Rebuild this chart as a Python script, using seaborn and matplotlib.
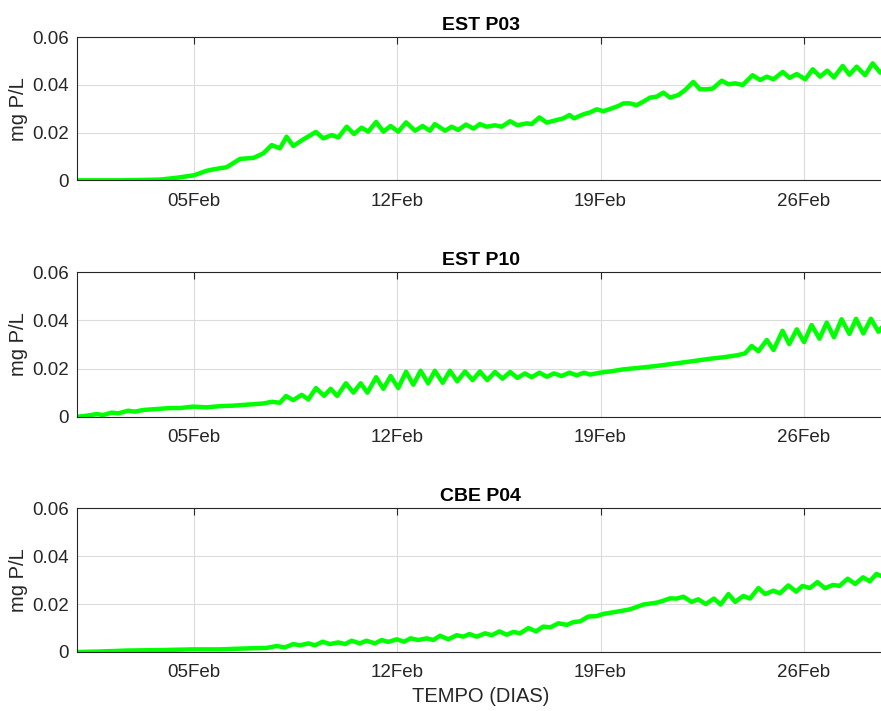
import numpy as np
import pandas as pd
import matplotlib
matplotlib.use("Agg")
import matplotlib.pyplot as plt
import matplotlib.dates as mdates
import seaborn as sns

# dias desde 01Feb (picos e cavados)
dias_p03 = [0, 1.5, 2.85, 3.07, 3.5, 4.01, 4.45, 4.68, 5.14, 5.6, 6.06, 6.4, 6.69, 6.97, 7.2, 7.43,
            7.78, 8.21, 8.46, 8.75, 8.98, 9.27, 9.52, 9.78, 10.01, 10.28, 10.53, 10.78, 11.04, 11.31,
            11.62, 11.88, 12.13, 12.3, 12.65, 12.88, 13.1, 13.37, 13.63, 13.85, 14.08, 14.37, 14.6,
            14.89, 15.14, 15.46, 15.63, 15.9, 16.15, 16.49, 16.72, 16.93, 17.09, 17.43, 17.64, 17.87,
            18.1, 18.39, 18.61, 18.79, 19.01, 19.24, 19.47, 19.7, 19.93, 20.16, 20.39, 20.68, 20.91,
            21.19, 21.42, 21.65, 21.86, 22.17, 22.4, 22.63, 22.89, 23.23, 23.49, 23.72, 23.95, 24.27,
            24.5, 24.75, 25.04, 25.3, 25.55, 25.8, 26.03, 26.33, 26.56, 26.81, 27.1, 27.36, 27.62, 27.85]
p03 = [0, 0, 0.0003, 0.0006, 0.0012, 0.0021, 0.004, 0.0046, 0.0055, 0.009, 0.0094, 0.0113, 0.0148,
       0.0134, 0.0183, 0.0144, 0.0172, 0.0203, 0.0176, 0.019, 0.018, 0.0225, 0.0194, 0.0221, 0.0204,
       0.0245, 0.0204, 0.0228, 0.0204, 0.0243, 0.0208, 0.0228, 0.0208, 0.0236, 0.0208, 0.0225, 0.0211,
       0.0234, 0.0217, 0.0236, 0.0225, 0.0231, 0.0225, 0.0248, 0.0231, 0.0239, 0.0236, 0.0264, 0.0242,
       0.0253, 0.026, 0.0274, 0.026, 0.0278, 0.0285, 0.0298, 0.029, 0.0302, 0.0312, 0.0323, 0.0323,
       0.0315, 0.033, 0.0347, 0.0351, 0.0368, 0.0347, 0.0358, 0.0379, 0.0413, 0.0382, 0.0382, 0.0385,
       0.0418, 0.0403, 0.0407, 0.04, 0.0441, 0.0421, 0.0435, 0.0424, 0.0455, 0.043, 0.0446, 0.0424,
       0.0466, 0.0435, 0.046, 0.0432, 0.048, 0.0443, 0.0477, 0.0441, 0.0491, 0.0452, 0.047]

dias_p10 = [0, 0.32, 0.67, 0.89, 1.18, 1.41, 1.75, 1.98, 2.27, 2.73, 3.19, 3.53, 3.99, 4.45, 4.91,
            5.37, 5.83, 6.4, 6.69, 6.97, 7.18, 7.43, 7.72, 7.95, 8.21, 8.49, 8.72, 8.94, 9.24, 9.5,
            9.75, 9.98, 10.28, 10.53, 10.78, 11.04, 11.31, 11.56, 11.81, 12.07, 12.3, 12.57, 12.82,
            13.07, 13.34, 13.6, 13.85, 14.1, 14.37, 14.63, 14.89, 15.14, 15.4, 15.63, 15.9, 16.15,
            16.4, 16.66, 16.93, 17.18, 17.43, 17.64, 17.98, 18.33, 18.79, 19.24, 19.93, 20.62, 21.31,
            21.77, 22.22, 22.68, 22.97, 23.2, 23.43, 23.72, 23.95, 24.26, 24.49, 24.75, 25.0, 25.26,
            25.53, 25.78, 26.03, 26.29, 26.56, 26.79, 27.04, 27.3, 27.56, 27.8]
p10 = [0, 0.0004, 0.0011, 0.0007, 0.0017, 0.0014, 0.0025, 0.0021, 0.0028, 0.0032, 0.0036, 0.0036,
       0.0042, 0.0039, 0.0044, 0.0046, 0.005, 0.0055, 0.0062, 0.0058, 0.0086, 0.0069, 0.0091, 0.0072,
       0.0119, 0.0087, 0.0116, 0.0086, 0.0139, 0.01, 0.0139, 0.01, 0.0164, 0.0116, 0.0169, 0.0119,
       0.0187, 0.0133, 0.0191, 0.0139, 0.0191, 0.0141, 0.0191, 0.0147, 0.0188, 0.0152, 0.0188, 0.0152,
       0.0186, 0.0158, 0.0186, 0.0161, 0.018, 0.0164, 0.0183, 0.0166, 0.018, 0.0169, 0.0183, 0.0172,
       0.0183, 0.0175, 0.0183, 0.0188, 0.0197, 0.0202, 0.0211, 0.0222, 0.0233, 0.0241, 0.0247, 0.0255,
       0.0263, 0.0294, 0.0272, 0.0319, 0.0277, 0.0357, 0.0302, 0.0363, 0.031, 0.0381, 0.0324, 0.0391,
       0.033, 0.0405, 0.0344, 0.0407, 0.0346, 0.0407, 0.0353, 0.039]

dias_p04 = [0, 0.78, 1.7, 2.84, 3.99, 4.91, 5.83, 6.51, 6.86, 7.14, 7.43, 7.66, 7.95, 8.18, 8.44,
            8.69, 8.98, 9.21, 9.44, 9.72, 9.95, 10.24, 10.47, 10.7, 10.99, 11.24, 11.47, 11.73, 12.02,
            12.25, 12.48, 12.76, 13.05, 13.28, 13.49, 13.74, 14.03, 14.26, 14.52, 14.77, 15.0, 15.23,
            15.52, 15.78, 16.03, 16.28, 16.55, 16.84, 17.07, 17.3, 17.58, 17.87, 18.1, 18.55, 19.01,
            19.47, 19.93, 20.16, 20.39, 20.62, 20.85, 21.13, 21.36, 21.62, 21.9, 22.13, 22.4, 22.63,
            22.91, 23.14, 23.43, 23.66, 23.95, 24.17, 24.46, 24.73, 24.95, 25.2, 25.46, 25.72, 25.99,
            26.22, 26.5, 26.76, 27.03, 27.26, 27.49, 27.66, 27.85]
p04 = [0, 0.0002, 0.0006, 0.0008, 0.0011, 0.0011, 0.0015, 0.0017, 0.0025, 0.0019, 0.0033, 0.0028,
       0.0036, 0.0028, 0.0043, 0.0033, 0.004, 0.0033, 0.0047, 0.0036, 0.0047, 0.0036, 0.005, 0.0042,
       0.0053, 0.0043, 0.0057, 0.005, 0.0057, 0.005, 0.0068, 0.0053, 0.007, 0.0064, 0.0075, 0.0064,
       0.0078, 0.007, 0.0086, 0.0072, 0.0084, 0.0078, 0.01, 0.0086, 0.0106, 0.0103, 0.012, 0.0113,
       0.0125, 0.0128, 0.0148, 0.015, 0.0159, 0.0168, 0.0178, 0.0198, 0.0206, 0.0214, 0.0224, 0.0223,
       0.0231, 0.0209, 0.022, 0.02, 0.0223, 0.0198, 0.0242, 0.0209, 0.0234, 0.0223, 0.0267, 0.0242,
       0.0256, 0.0245, 0.0278, 0.0252, 0.0276, 0.0267, 0.0292, 0.0266, 0.028, 0.0276, 0.0306, 0.0284,
       0.0312, 0.0295, 0.0326, 0.0317, 0.0322]

titulos = ["EST P03", "EST P10", "CBE P04"]
series = [(dias_p03, p03), (dias_p10, p10), (dias_p04, p04)]
inicio = pd.Timestamp("2020-02-01")

sns.set_style("whitegrid")
plt.rcParams['font.family'] = ['Liberation Sans', 'DejaVu Sans']

fig = plt.figure(figsize=(8.81, 7.11), dpi=100)
# posicoes dos eixos (o lado direito fica cortado, como no original)
posicoes = [[0.0877, 0.7464, 0.9157, 0.2011],
            [0.0877, 0.4139, 0.9157, 0.2031],
            [0.0877, 0.0830, 0.9157, 0.2021]]

for i, (dias, valores) in enumerate(series):
    ax = fig.add_axes(posicoes[i])
    df = pd.DataFrame({"tempo": inicio + pd.to_timedelta(dias, unit="D"), "valor": valores})
    sns.lineplot(data=df, x="tempo", y="valor", ax=ax, color="#00ff00", linewidth=3.2,
                 solid_joinstyle="round", solid_capstyle="round")
    ax.set_xlim(inicio, inicio + pd.Timedelta(days=27.75))
    ax.set_ylim(0, 0.06)
    ax.set_yticks([0, 0.02, 0.04, 0.06])
    ax.set_yticklabels(["0", "0.02", "0.04", "0.06"])
    ax.xaxis.set_major_locator(mdates.DayLocator(bymonthday=[5, 12, 19, 26]))
    ax.xaxis.set_major_formatter(mdates.DateFormatter("%d%b"))
    ax.set_title(titulos[i], fontsize=14, fontweight="bold", color="black", pad=5)
    ax.set_ylabel("mg P/L", fontsize=14.5, color="#262626", labelpad=3)
    ax.set_xlabel("")
    ax.grid(True, color="#dcdcdc", linewidth=0.8)
    ax.tick_params(axis="both", direction="in", length=5, width=0.8, colors="#262626",
                   labelsize=13.5, top=True, right=False, pad=6)
    ax.tick_params(axis="x", pad=9)
    for lado in ["left", "bottom", "top", "right"]:
        ax.spines[lado].set_color("#262626")
        ax.spines[lado].set_linewidth(0.8)
    ax.set_facecolor("white")
    if i == 2:
        ax.set_xlabel("TEMPO (DIAS)", fontsize=14.5, color="#262626", labelpad=4)

fig.savefig("out.png", dpi=100, facecolor="white")
